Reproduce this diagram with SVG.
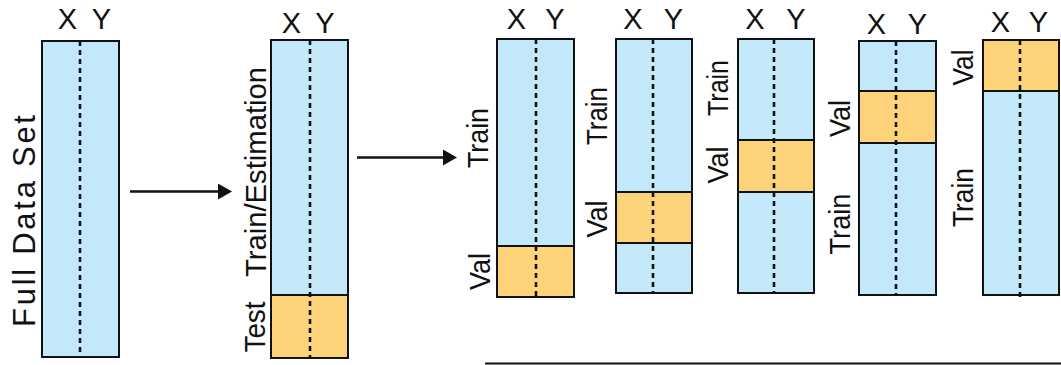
<svg xmlns="http://www.w3.org/2000/svg" width="1061" height="365" viewBox="0 0 1061 365">
<defs>
<style>
.tr{fill:#C2E8F9;stroke:#111;stroke-width:2}
.va{fill:#FDD37A;stroke:#111;stroke-width:2}
.ds{stroke:#111;stroke-width:2.6;stroke-dasharray:5 4;fill:none}
.xy{font-family:"Liberation Sans",Arial,sans-serif;font-size:29px;fill:#111;text-anchor:middle}
.lb{font-family:"Liberation Sans",Arial,sans-serif;font-size:29px;fill:#111;text-anchor:middle}
.cn{stroke:#111;stroke-width:2.6;fill:none}
</style>
<marker id="ah" viewBox="0 0 14 16" refX="0" refY="8" markerWidth="14" markerHeight="16" markerUnits="userSpaceOnUse" orient="auto">
<path d="M0,0 L14,8 L0,16 Z" fill="#111"/>
</marker>
</defs>

<g id="full">
<rect class="tr" x="42" y="41" width="77" height="316"/>
<line class="ds" x1="80" y1="41" x2="80" y2="357"/>
<text class="xy" x="67.5" y="29">X</text>
<text class="xy" x="101.5" y="29">Y</text>
<text class="lb" style="font-size:31px" transform="translate(35,221) rotate(-90)" textLength="212" lengthAdjust="spacing">Full Data Set</text>
</g>

<g id="split">
<rect class="tr" x="271" y="40" width="77" height="255"/>
<rect class="va" x="271" y="295" width="77" height="63"/>
<line class="ds" x1="310" y1="40" x2="310" y2="358"/>
<text class="xy" x="291.5" y="33">X</text>
<text class="xy" x="325" y="33">Y</text>
<text class="lb" transform="translate(266,172) rotate(-90)" textLength="210" lengthAdjust="spacingAndGlyphs">Train/Estimation</text>
<text class="lb" transform="translate(265,327) rotate(-90)" textLength="51" lengthAdjust="spacingAndGlyphs">Test</text>
</g>

<g id="fold1">
<rect class="tr" x="497" y="39" width="77" height="207"/>
<rect class="va" x="497" y="246" width="77" height="51"/>
<line class="ds" x1="536" y1="39" x2="536" y2="297"/>
<text class="xy" x="516.5" y="29">X</text>
<text class="xy" x="555" y="29">Y</text>
<text class="lb" transform="translate(488,138) rotate(-90)" textLength="60" lengthAdjust="spacingAndGlyphs">Train</text>
<text class="lb" transform="translate(490,271.5) rotate(-90)" textLength="37" lengthAdjust="spacingAndGlyphs">Val</text>
</g>

<g id="fold2">
<rect class="tr" x="616" y="39" width="76" height="254"/>
<rect class="va" x="616" y="192" width="76" height="51"/>
<line class="ds" x1="653" y1="39" x2="653" y2="293"/>
<text class="xy" x="633" y="29">X</text>
<text class="xy" x="673.5" y="29">Y</text>
<text class="lb" transform="translate(607,116) rotate(-90)" textLength="58" lengthAdjust="spacingAndGlyphs">Train</text>
<text class="lb" transform="translate(607,219) rotate(-90)" textLength="37" lengthAdjust="spacingAndGlyphs">Val</text>
</g>

<g id="fold3">
<rect class="tr" x="738" y="39" width="76" height="254"/>
<rect class="va" x="738" y="140" width="76" height="52"/>
<line class="ds" x1="774" y1="39" x2="774" y2="293"/>
<text class="xy" x="755" y="29">X</text>
<text class="xy" x="796" y="29">Y</text>
<text class="lb" transform="translate(728,88) rotate(-90)" textLength="56" lengthAdjust="spacingAndGlyphs">Train</text>
<text class="lb" transform="translate(728,165) rotate(-90)" textLength="37" lengthAdjust="spacingAndGlyphs">Val</text>
</g>

<g id="fold4">
<rect class="tr" x="859" y="41" width="77" height="254"/>
<rect class="va" x="859" y="91" width="77" height="52"/>
<line class="ds" x1="896" y1="41" x2="896" y2="295"/>
<text class="xy" x="876.5" y="34">X</text>
<text class="xy" x="917.5" y="34">Y</text>
<text class="lb" transform="translate(850,118.5) rotate(-90)" textLength="37" lengthAdjust="spacingAndGlyphs">Val</text>
<text class="lb" transform="translate(850,224) rotate(-90)" textLength="61" lengthAdjust="spacingAndGlyphs">Train</text>
</g>

<g id="fold5">
<rect class="tr" x="983" y="40" width="76" height="255"/>
<rect class="va" x="983" y="40" width="76" height="51"/>
<line class="ds" x1="1020" y1="40" x2="1020" y2="297"/>
<text class="xy" x="1000.5" y="32">X</text>
<text class="xy" x="1038.5" y="32">Y</text>
<text class="lb" transform="translate(973,67.5) rotate(-90)" textLength="36" lengthAdjust="spacingAndGlyphs">Val</text>
<text class="lb" transform="translate(973,197.5) rotate(-90)" textLength="59" lengthAdjust="spacingAndGlyphs">Train</text>
</g>

<g id="connectors">
<line class="cn" x1="130" y1="191.5" x2="218" y2="191.5" marker-end="url(#ah)"/>
<line class="cn" x1="357" y1="157.5" x2="443" y2="157.5" marker-end="url(#ah)"/>
<line x1="485" y1="363.5" x2="1061" y2="363.5" stroke="#111" stroke-width="2"/>
</g>
</svg>
